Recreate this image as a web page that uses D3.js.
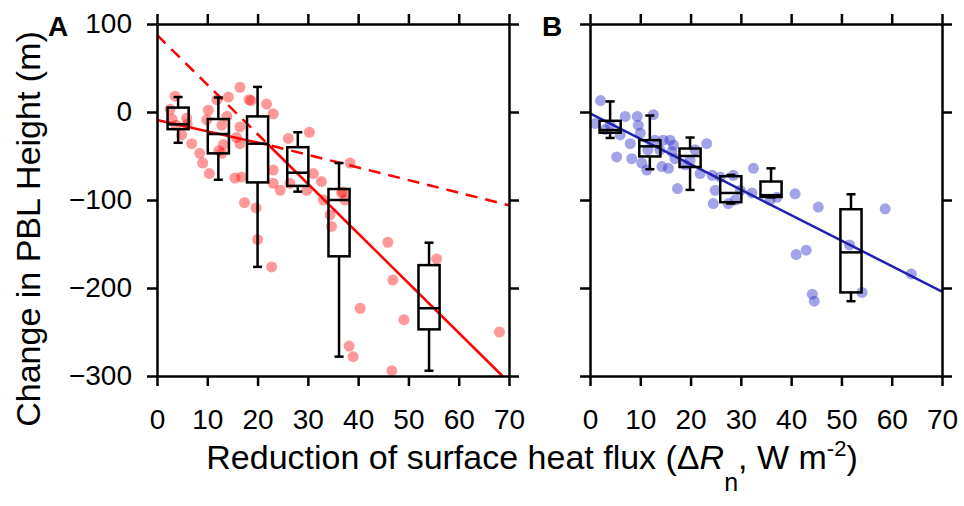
<!DOCTYPE html>
<html lang="en">
<head>
  <meta charset="UTF-8">
  <title>Change in PBL Height vs reduction of surface heat flux</title>
  <script src="https://d3js.org/d3.v7.min.js"></script>
  <style>
    body { margin: 0; background: #fff; }
    text { font-family: "Liberation Sans", Arial, Helvetica, sans-serif; fill: #000; }
  </style>
</head>
<body>
  <div id="chart"></div>

  <script>
    // ---- data ----
    const xTicks = [0, 10, 20, 30, 40, 50, 60, 70];
    const yTicks = [100, 0, -100, -200, -300];

    // panel A scatter (x = dRn, y = change in PBL height)
    const pointsA = [
      [3.6, 18], [2.6, 3], [5.9, -7], [3.8, -15], [4.9, -26], [6.9, -36], [8.5, -47], [9.1, -58],
      [10.4, -70], [10.2, 2], [9.9, -9], [11.9, 14], [14.2, 17], [13.9, -5], [12.9, -15], [13.2, -37],
      [12.9, -47], [16.5, 28], [18.3, 14], [18.7, 13], [21.8, 9], [23.1, -2], [16.5, -17], [16.5, -36],
      [15.5, -75], [16.8, -74], [23.1, -66], [23.1, -81], [24.5, -89], [26.1, -30], [30.3, -23],
      [26.4, -81], [31.1, -70], [32.7, -79], [38.4, -58], [37.0, -91], [17.4, -103], [19.7, -109],
      [20.0, -145], [22.8, -176], [29.8, -89], [33.1, -100], [34.4, -117], [34.7, -130], [36.7, -92],
      [37.4, -100], [45.9, -148], [46.9, -191], [40.4, -223], [38.2, -266], [39.0, -278], [46.7, -294],
      [49.1, -236], [55.6, -167], [68.1, -250], [3.0, -8], [6.0, -14], [12.3, -44], [15.8, -29]
    ];
    // panel A fits: solid and dashed segmented lines
    const fitSolidA = [[0, -9], [22.2, -37.5], [68.7, -300]];
    const fitDashA = [[0, 87.5], [22.2, -37.5], [70, -106]];
    // panel A box plots
    const boxCentersA = [4.2, 12.2, 20.0, 28.0, 36.2, 54.1];
    const boxLowA  = [-35, -77, -176, -90.5, -278, -294];
    const boxQ1A   = [-19.5, -47, -80, -84, -164, -247];
    const boxMedA  = [-14, -25, -36, -69, -100, -223];
    const boxQ3A   = [5, -8, -5, -40, -87.5, -174];
    const boxHighA = [17, 16.5, 28.5, -23, -58, -148.5];

    // panel B scatter
    const pointsB = [
      [2.1, 13], [1.0, -13], [3.0, -20], [7.0, -5], [5.3, -51], [8.0, -36], [8.3, -53], [9.4, -5],
      [9.6, -15], [10.0, -24], [10.3, -58], [12.6, -3], [11.3, -66], [14.3, -62], [14.6, -32],
      [15.9, -32], [16.3, -45], [15.6, -64], [16.6, -37.5], [16.9, -53], [23.2, -36], [21.9, -70],
      [17.4, -87], [24.5, -104], [25.9, -74], [28.5, -72], [32.2, -92], [32.5, -64], [40.8, -93],
      [37.2, -97], [27.5, -104], [45.4, -108], [58.7, -110], [41.0, -162], [43.0, -157], [51.6, -151],
      [44.2, -207], [44.6, -215], [54.1, -205], [63.9, -184], [4.0, -15], [6.0, -26], [11.5, -43],
      [12.9, -32], [13.9, -43], [19.9, -55], [18.9, -60], [20.9, -43], [24.3, -72], [24.9, -89],
      [28.9, -100], [29.9, -89], [35.8, -100]
    ];
    const fitB = [[0, -1.5], [70, -204]];
    const boxCentersB = [4.0, 11.9, 19.9, 28.0, 36.0, 51.9];
    const boxLowB  = [-29.5, -65, -88.5, -104, -97, -215];
    const boxQ1B   = [-23.5, -50.5, -62.5, -102.5, -96.5, -205];
    const boxMedB  = [-20.5, -39, -50, -92, -94.5, -159.5];
    const boxQ3B   = [-10, -32, -41.5, -73, -79, -110.5];
    const boxHighB = [12, -4, -29, -71.5, -64, -93.5];

    // ---- layout ----
    const W = 964, H = 506;
    const plotTop = 24, plotBottom = 376;
    const BOX_W = 4.2, CAP_W = 1.8;

    const svg = d3.select("#chart").append("svg")
      .attr("width", W)
      .attr("height", H);

    const y = d3.scaleLinear().domain([-300, 100]).range([plotBottom, plotTop]);

    function panel(x0, x1, pts, dotColor, dotOpacity, lines, boxes, showYLabels, tag) {
      const x = d3.scaleLinear().domain([0, 70]).range([x0, x1]);
      const g = svg.append("g");

      // points
      g.selectAll("circle.pt")
        .data(pts)
        .enter().append("circle")
          .attr("class", "pt")
          .attr("cx", d => x(d[0]))
          .attr("cy", d => y(d[1]))
          .attr("r", 5.5)
          .style("fill", dotColor)
          .style("opacity", dotOpacity);

      // fit lines
      const line = d3.line().x(d => x(d[0])).y(d => y(d[1]));
      lines.forEach(l => {
        g.append("path")
          .attr("d", line(l.data))
          .attr("fill", "none")
          .attr("stroke", l.color)
          .attr("stroke-width", 2.5)
          .attr("stroke-dasharray", l.dash || null);
      });

      // box plots
      const bx = boxes.centers.map((c, i) => ({
        c: c, lo: boxes.lo[i], q1: boxes.q1[i], med: boxes.med[i], q3: boxes.q3[i], hi: boxes.hi[i]
      }));
      const bg = g.selectAll("g.box").data(bx).enter().append("g")
        .attr("class", "box")
        .attr("stroke", "#000")
        .attr("stroke-width", 2.5)
        .attr("fill", "none");
      bg.append("line")
        .attr("x1", d => x(d.c)).attr("x2", d => x(d.c))
        .attr("y1", d => y(d.hi)).attr("y2", d => y(d.q3));
      bg.append("line")
        .attr("x1", d => x(d.c)).attr("x2", d => x(d.c))
        .attr("y1", d => y(d.q1)).attr("y2", d => y(d.lo));
      bg.append("line")
        .attr("x1", d => x(d.c - CAP_W / 2)).attr("x2", d => x(d.c + CAP_W / 2))
        .attr("y1", d => y(d.hi)).attr("y2", d => y(d.hi));
      bg.append("line")
        .attr("x1", d => x(d.c - CAP_W / 2)).attr("x2", d => x(d.c + CAP_W / 2))
        .attr("y1", d => y(d.lo)).attr("y2", d => y(d.lo));
      bg.append("rect")
        .attr("x", d => x(d.c - BOX_W / 2))
        .attr("width", d => x(d.c + BOX_W / 2) - x(d.c - BOX_W / 2))
        .attr("y", d => y(d.q3))
        .attr("height", d => y(d.q1) - y(d.q3));
      bg.append("line")
        .attr("x1", d => x(d.c - BOX_W / 2)).attr("x2", d => x(d.c + BOX_W / 2))
        .attr("y1", d => y(d.med)).attr("y2", d => y(d.med));

      // axes on all four sides, ticks outward
      g.append("g").attr("transform", "translate(0," + plotBottom + ")")
        .call(d3.axisBottom(x).tickValues(xTicks).tickSize(10).tickSizeOuter(0).tickPadding(23));
      g.append("g").attr("transform", "translate(0," + plotTop + ")")
        .call(d3.axisTop(x).tickValues(xTicks).tickSize(10).tickSizeOuter(0).tickFormat(""));
      g.append("g").attr("transform", "translate(" + x0 + ",0)")
        .call(d3.axisLeft(y).tickValues(yTicks).tickSize(10).tickSizeOuter(0).tickPadding(15)
          .tickFormat(showYLabels ? d3.format("d") : () => ""));
      g.append("g").attr("transform", "translate(" + x1 + ",0)")
        .call(d3.axisRight(y).tickValues(yTicks).tickSize(10).tickSizeOuter(0).tickFormat(""));

      g.selectAll(".domain, .tick line")
        .attr("stroke", "#000")
        .attr("stroke-width", 2.5);
      g.selectAll(".tick text")
        .style("font-size", "28px")
        .style("font-family", "'Liberation Sans', Arial, sans-serif")
        .attr("fill", "#000");

      // panel tag
      g.append("text")
        .attr("x", tag.x)
        .attr("y", 36)
        .style("font-size", "28px")
        .style("font-weight", "bold")
        .text(tag.label);
    }

    panel(157, 509, pointsA, "#ff0000", 0.4,
      [{ data: fitSolidA, color: "#ff0000" }, { data: fitDashA, color: "#ff0000", dash: "12,8" }],
      { centers: boxCentersA, lo: boxLowA, q1: boxQ1A, med: boxMedA, q3: boxQ3A, hi: boxHighA },
      true, { x: 48, label: "A" });

    panel(590, 942, pointsB, "#3333cc", 0.45,
      [{ data: fitB, color: "#2020b0" }],
      { centers: boxCentersB, lo: boxLowB, q1: boxQ1B, med: boxMedB, q3: boxQ3B, hi: boxHighB },
      false, { x: 542, label: "B" });

    // y-axis title
    svg.append("text")
      .attr("transform", "translate(40,229) rotate(-90)")
      .attr("text-anchor", "middle")
      .style("font-size", "34px")
      .text("Change in PBL Height (m)");

    // x-axis title with delta, italic R, subscript n and superscript -2
    const xt = svg.append("text")
      .attr("x", 532)
      .attr("y", 469)
      .attr("text-anchor", "middle")
      .style("font-size", "34px");
    xt.append("tspan").text("Reduction of surface heat flux (\u0394");
    xt.append("tspan").style("font-style", "italic").text("R");
    xt.append("tspan").attr("dy", 22).style("font-size", "25px").text("n");
    xt.append("tspan").attr("dy", -22).text(", W m");
    xt.append("tspan").attr("dy", -13).style("font-size", "22px").text("-2");
    xt.append("tspan").attr("dy", 13).text(")");
  </script>
</body>
</html>
